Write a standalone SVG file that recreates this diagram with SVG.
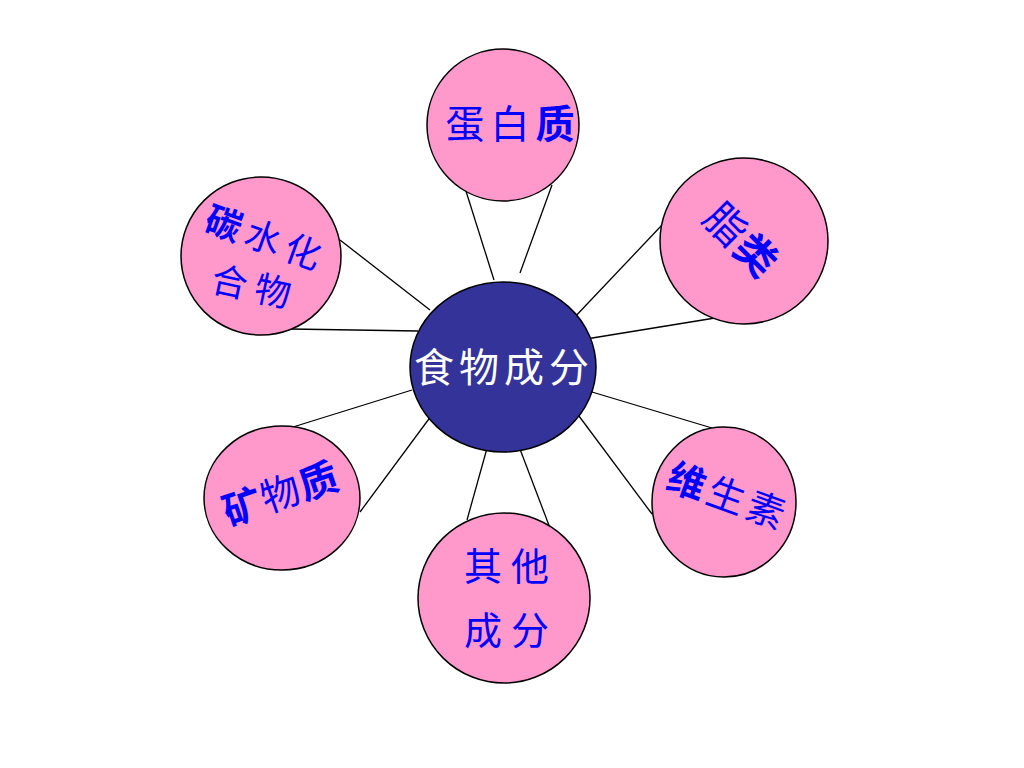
<svg xmlns="http://www.w3.org/2000/svg" width="1024" height="768" viewBox="0 0 1024 768">
<style>
.leaf{fill:#FF99CC;stroke:#000;stroke-width:1.5}
.hub{fill:#333399;stroke:#000;stroke-width:1.5}
.ln{stroke:#000;stroke-width:1.3;fill:none}
.t{font-family:"Liberation Sans","Noto Sans CJK SC",sans-serif;fill:#0000FF;text-anchor:middle;dominant-baseline:central}
.b{font-weight:bold}
.w{fill:#FFFFFF}
</style>
<rect width="1024" height="768" fill="#FFFFFF"/>
<g id="connectors">
<line class="ln" x1="465" y1="188" x2="494" y2="280"/>
<line class="ln" x1="552" y1="185" x2="520" y2="273"/>
<line class="ln" x1="340" y1="240" x2="430" y2="310"/>
<line class="ln" x1="290" y1="329" x2="418" y2="331"/>
<line class="ln" x1="662" y1="225" x2="572" y2="320"/>
<line class="ln" x1="715" y1="318" x2="580" y2="340"/>
<line class="ln" x1="293" y1="427" x2="412" y2="390"/>
<line class="ln" x1="360" y1="512" x2="437" y2="408"/>
<line class="ln" x1="712" y1="428" x2="592" y2="392"/>
<line class="ln" x1="652" y1="514" x2="573" y2="408"/>
<line class="ln" x1="467" y1="520" x2="491" y2="434"/>
<line class="ln" x1="550" y1="528" x2="515" y2="436"/>
</g>
<g id="hub">
<ellipse class="hub" cx="503" cy="367" rx="93" ry="85"/>
<text class="t w" x="504" y="368" font-size="40" letter-spacing="5">食物成分</text>
</g>
<g id="protein">
<circle class="leaf" cx="503" cy="125" r="76"/>
<text class="t" x="513" y="124" font-size="39" letter-spacing="6">蛋白<tspan class="b">质</tspan></text>
</g>
<g id="carbs">
<ellipse class="leaf" cx="261" cy="256" rx="80" ry="79"/>
<text class="t" x="266" y="239" font-size="36" letter-spacing="6" transform="rotate(20 266 239)"><tspan class="b">碳</tspan>水化</text>
<text class="t" x="255" y="288" font-size="36" letter-spacing="8" transform="rotate(12 255 288)">合物</text>
</g>
<g id="fat">
<ellipse class="leaf" cx="744" cy="241" rx="84" ry="83"/>
<text class="t" x="741" y="241" font-size="41" letter-spacing="2" transform="rotate(45 741 241)">脂<tspan class="b">类</tspan></text>
</g>
<g id="mineral">
<ellipse class="leaf" cx="282" cy="498" rx="78" ry="72"/>
<text class="t" x="281" y="494" font-size="39" letter-spacing="1" transform="rotate(-19 281 494)"><tspan class="b">矿</tspan>物<tspan class="b">质</tspan></text>
</g>
<g id="vitamin">
<ellipse class="leaf" cx="724" cy="502" rx="72" ry="75"/>
<text class="t" x="728" y="497" font-size="38" letter-spacing="4" transform="rotate(20 728 497)"><tspan class="b">维</tspan>生素</text>
</g>
<g id="other">
<ellipse class="leaf" cx="504" cy="598" rx="86" ry="85"/>
<text class="t" x="511" y="567" font-size="38" letter-spacing="9">其他</text>
<text class="t" x="511" y="631" font-size="38" letter-spacing="9">成分</text>
</g>
</svg>
